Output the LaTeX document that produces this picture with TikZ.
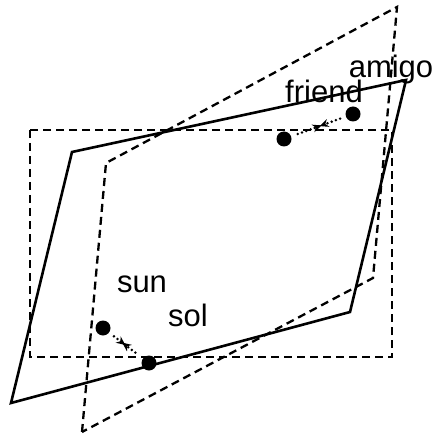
\documentclass[tikz,border=0pt]{standalone}
\usepackage{fontspec}
\setmainfont{Liberation Sans}
\usetikzlibrary{arrows.meta,decorations.markings}

\begin{document}
\begin{tikzpicture}[
    x=1pt, y=-1pt,
    frame/.style={line width=2.3pt, dash pattern=on 8pt off 5pt},
    plane/.style={line width=2.6pt, line join=miter},
    dot/.style={circle, fill=black, inner sep=0pt, minimum size=15pt},
    word/.style={font=\fontsize{31}{36}\selectfont, anchor=base, inner sep=0pt},
    move/.style={line width=2.8pt, line cap=round, dash pattern=on 0pt off 4.5pt,
        shorten <=6pt, shorten >=6pt,
        postaction={decorate},
        decoration={markings,
            mark=at position 0.48 with {\arrow[solid]{Stealth[length=9pt,width=8pt]}},
            mark=at position 0.6 with {\arrow[solid]{Stealth[length=9pt,width=8pt,reversed]}}}},
]

\useasboundingbox (0,0) rectangle (435,435);

% Dashed rectangle
\draw[frame] (30,130) rectangle (392,357);

% Dashed parallelogram
\draw[frame] (82,432) -- (106,163) -- (397,7) -- (373,278) -- cycle;

% Solid parallelogram
\draw[plane] (11,403) -- (72,152) -- (406,80) -- (350,312) -- cycle;

% Words
\node[word] (amigo) at (391,78) {amigo};
\node[word] (friend) at (324,103) {friend};
\node[word] (sun) at (142,292) {sun};
\node[word] (sol) at (188,326) {sol};

% Points
\node[dot] (amigopt) at (353,114) {};
\node[dot] (friendpt) at (284,139) {};
\node[dot] (sunpt) at (103,328) {};
\node[dot] (solpt) at (149,363) {};

\draw[move] (amigopt) -- (friendpt);
\draw[move] (sunpt) -- (solpt);

\end{tikzpicture}
\end{document}
